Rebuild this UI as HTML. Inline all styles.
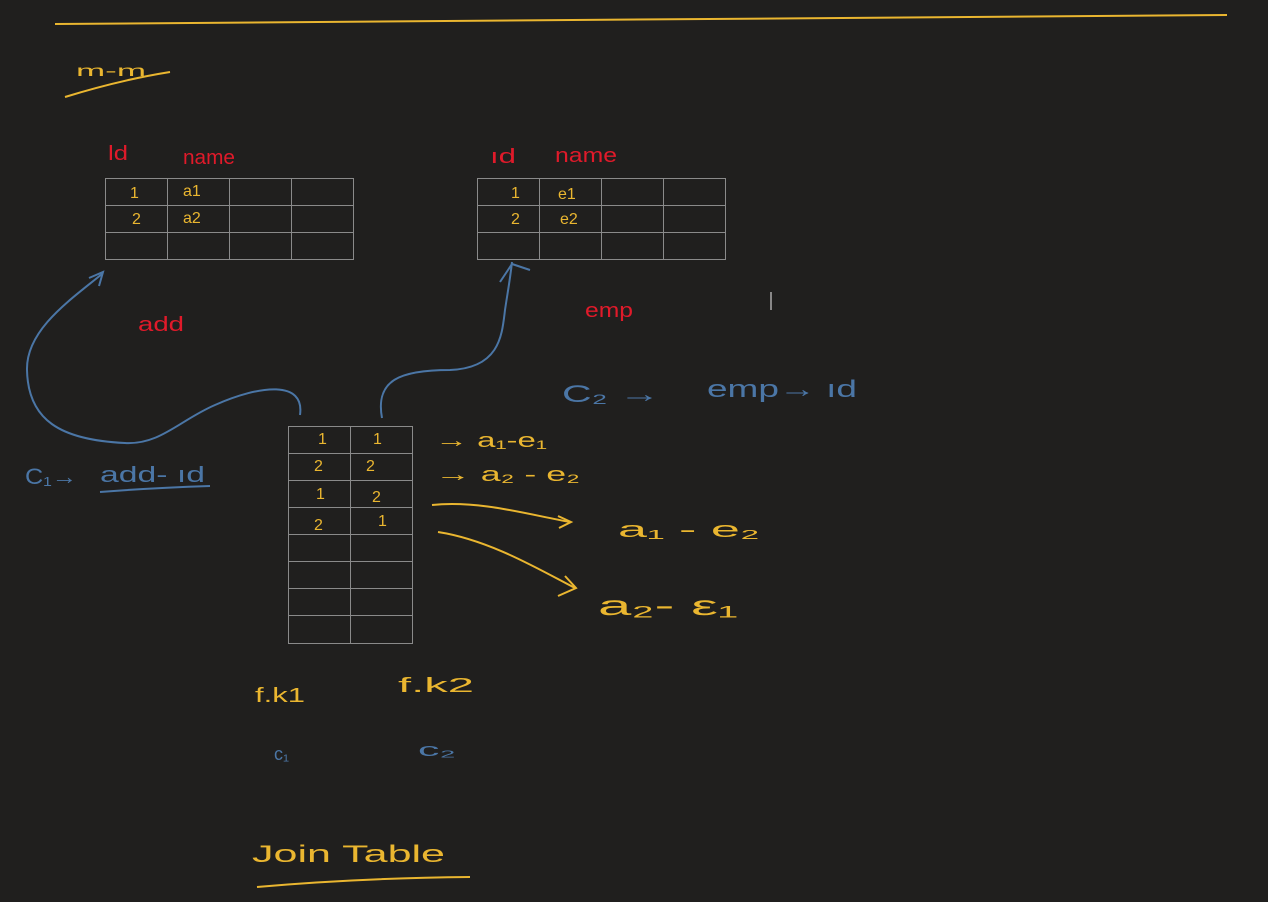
<!DOCTYPE html>
<html><head><style>
html,body{margin:0;padding:0;background:#201f1e;}
svg{display:block}
text{font-family:"Liberation Sans",sans-serif;}
.y{fill:#eab630}.r{fill:#e01a2a}.b{fill:#4b76a6}
</style></head><body>
<svg width="1268" height="902" viewBox="0 0 1268 902" xmlns="http://www.w3.org/2000/svg">
<rect width="1268" height="902" fill="#201f1e"/>
<line x1="55" y1="24" x2="1227" y2="15" stroke="#eab630" stroke-width="2"/>
<text x="76" y="76" class="y" font-size="16" textLength="70" lengthAdjust="spacingAndGlyphs">m-m</text>
<path d="M65 97 Q120 80 170 72" stroke="#eab630" stroke-width="2" fill="none"/>
<g stroke="#8a8a8a" stroke-width="1" fill="none">
<rect x="105.5" y="178.5" width="248" height="81"/>
<path d="M167.5 178v81M229.5 178v81M291.5 178v81M105 205.5h248M105 232.5h248"/>
<rect x="477.5" y="178.5" width="248" height="81"/>
<path d="M539.5 178v81M601.5 178v81M663.5 178v81M477 205.5h248M477 232.5h248"/>
<rect x="288.5" y="426.5" width="124" height="217"/>
<path d="M350.5 426v217M288 453.5h124M288 480.5h124M288 507.5h124M288 534.5h124M288 561.5h124M288 588.5h124M288 615.5h124"/>
</g>
<g class="r" font-size="20">
<text x="108" y="160" textLength="20" lengthAdjust="spacingAndGlyphs">ld</text><text x="183" y="164" textLength="52" lengthAdjust="spacingAndGlyphs">name</text>
<text x="490" y="163" textLength="26" lengthAdjust="spacingAndGlyphs">ıd</text><text x="555" y="162" textLength="62" lengthAdjust="spacingAndGlyphs">name</text>
<text x="138" y="331" textLength="46" lengthAdjust="spacingAndGlyphs">add</text><text x="585" y="317" textLength="48" lengthAdjust="spacingAndGlyphs">emp</text>
</g>
<g class="y" font-size="16">
<text x="130" y="198">1</text><text x="183" y="196">a1</text>
<text x="132" y="224">2</text><text x="183" y="223">a2</text>
<text x="511" y="198">1</text><text x="558" y="199">e1</text>
<text x="511" y="224">2</text><text x="560" y="224">e2</text>
<text x="318" y="444">1</text><text x="373" y="444">1</text>
<text x="314" y="471">2</text><text x="366" y="471">2</text>
<text x="316" y="499">1</text><text x="372" y="502">2</text>
<text x="314" y="530">2</text><text x="378" y="526">1</text>
</g>
<g class="y" font-size="20">
<text x="435" y="447" textLength="112" lengthAdjust="spacingAndGlyphs">→ a₁-e₁</text>
<text x="435" y="481" textLength="145" lengthAdjust="spacingAndGlyphs">→ a₂ - e₂</text>
<text x="618" y="537" font-size="22" textLength="142" lengthAdjust="spacingAndGlyphs">a₁ -  e₂</text>
<text x="598" y="615" font-size="28" textLength="140" lengthAdjust="spacingAndGlyphs">a₂- ε₁</text>
<text x="255" y="702" textLength="50" lengthAdjust="spacingAndGlyphs">f.k1</text>
<text x="398" y="692" textLength="76" lengthAdjust="spacingAndGlyphs">f.k2</text>
<text x="252" y="862" font-size="24" textLength="193" lengthAdjust="spacingAndGlyphs">Join  Table</text>
</g>
<path d="M257 887 Q360 878 470 877" stroke="#eab630" stroke-width="2" fill="none"/>
<g stroke="#eab630" stroke-width="2" fill="none">
<path d="M432 505 C480 500 530 515 570 522"/><path d="M558 516 L571 522 L559 528"/>
<path d="M438 532 C490 540 540 570 575 588"/><path d="M565 576 L576 588 L558 596"/>
</g>
<g stroke="#4b76a6" stroke-width="2" fill="none">
<path d="M300 415 C305 380 260 385 215 405 C180 420 160 445 125 443 C60 440 28 420 27 370 C26 330 70 300 102 274"/>
<path d="M89 278 L103 272 L99 286"/>
<path d="M382 418 C375 380 400 370 450 370 C500 368 502 335 505 310 C508 290 510 280 512 262"/>
<path d="M500 282 L512 264 L530 270"/>
<path d="M100 492 Q150 488 210 486"/>
<line x1="771" y1="292" x2="771" y2="310" stroke="#aaa" stroke-width="1.5"/>
</g>
<g class="b" font-size="22">
<text x="25" y="484" textLength="52" lengthAdjust="spacingAndGlyphs">C₁→</text>
<text x="100" y="482" textLength="105" lengthAdjust="spacingAndGlyphs">add- ıd</text>
<text x="562" y="402" font-size="24" textLength="98" lengthAdjust="spacingAndGlyphs">C₂ →</text>
<text x="707" y="397" font-size="24" textLength="150" lengthAdjust="spacingAndGlyphs">emp→ ıd</text>
<text x="274" y="760" font-size="18">c₁</text>
<text x="418" y="756" font-size="18" textLength="38" lengthAdjust="spacingAndGlyphs">c₂</text>
</g>
</svg>
</body></html>
